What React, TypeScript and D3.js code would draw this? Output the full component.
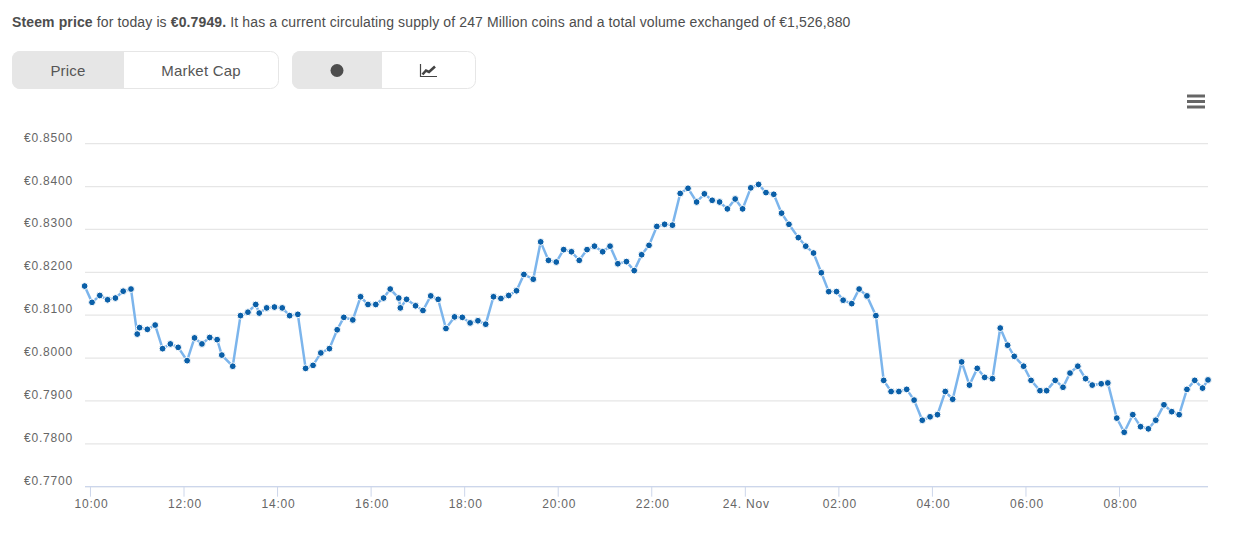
import * as d3 from 'd3';
import React, { useRef, useEffect } from 'react';

// minutes after 10:00
const minutes = [
  -7.5, 2, 12, 22, 32, 42, 52, 60, 63, 73, 83, 92.5, 102.5, 112.5, 124, 133.5, 143, 153, 162.5, 168.5,
  182.5, 192.5, 202, 212, 216.5, 226, 236, 246, 255.5, 266, 276, 285.5, 295.5, 306.5, 316.5, 325, 336.5, 346.5, 356,
  366, 376, 384.5, 395.5, 397.5, 405.5, 417, 426.5, 436.5, 446, 456, 467, 477, 487, 497, 507,
  517, 526.5, 536.5, 546.5, 556, 568, 577.5, 587.5, 597.5, 607, 617, 627, 637, 646.5, 657, 666.5,
  676.5, 687.5, 697.5, 707, 716.5, 726.5, 736.5, 746.5, 756.5, 766.5, 777.5, 787.5, 797.5, 807, 817, 827, 836.5,
  847, 857, 866.5, 876.5, 886.5, 896, 908, 917.5, 927.5, 937.5, 947, 957, 965.5, 976.5, 986, 996, 1007.5,
  1017.5, 1027, 1037, 1047, 1056.5, 1067, 1077, 1086.5, 1096.5, 1106, 1117.5, 1127.5, 1137.5, 1147, 1157,
  1167, 1176.5, 1185, 1197, 1206.5, 1218, 1226.5, 1237.5, 1247.5, 1256.5, 1266.5, 1276.5, 1285, 1296.5, 1305,
  1316.5, 1326, 1337, 1347, 1357, 1366.5, 1377, 1387, 1396.5, 1406.5, 1416.5, 1426.5, 1433.5,
];

const prices = [
  0.8168, 0.813, 0.8146, 0.8136, 0.814, 0.8156, 0.8161, 0.8056, 0.8071, 0.8067, 0.8077, 0.8022, 0.8033, 0.8025, 0.7994, 0.8047, 0.8033, 0.8048, 0.8043, 0.8007,
  0.7981, 0.8099, 0.8107, 0.8125, 0.8105, 0.8117, 0.8119, 0.8117, 0.8099, 0.8102, 0.7976, 0.7983, 0.8012, 0.8022, 0.8066, 0.8095, 0.8089, 0.8143, 0.8125,
  0.8125, 0.814, 0.8161, 0.814, 0.8117, 0.8137, 0.8122, 0.8111, 0.8145, 0.8137, 0.8069, 0.8096, 0.8095, 0.8082, 0.8087, 0.8079,
  0.8143, 0.8139, 0.8146, 0.8157, 0.8195, 0.8184, 0.8271, 0.8228, 0.8224, 0.8253, 0.8248, 0.8228, 0.8253, 0.8261, 0.8248, 0.8261,
  0.822, 0.8225, 0.8204, 0.8241, 0.8263, 0.8307, 0.8312, 0.831, 0.8384, 0.8396, 0.8364, 0.8383, 0.8368, 0.8364, 0.8348, 0.8371, 0.8348,
  0.8397, 0.8405, 0.8386, 0.8382, 0.8338, 0.8312, 0.8281, 0.8261, 0.8245, 0.8199, 0.8155, 0.8155, 0.8135, 0.8127, 0.8161, 0.8145, 0.8099,
  0.7948, 0.7922, 0.7922, 0.7927, 0.7902, 0.7855, 0.7863, 0.7868, 0.7922, 0.7904, 0.7991, 0.7937, 0.7976, 0.7955, 0.7952,
  0.807, 0.803, 0.8004, 0.7981, 0.7948, 0.7924, 0.7924, 0.7948, 0.7932, 0.7965, 0.7981, 0.7952, 0.7937, 0.794, 0.7942,
  0.786, 0.7827, 0.7868, 0.784, 0.7835, 0.7855, 0.7891, 0.7875, 0.7868, 0.7927, 0.7948, 0.793, 0.7949,
];

const priceTicks = [0.77, 0.78, 0.79, 0.8, 0.81, 0.82, 0.83, 0.84, 0.85];
const timeTicks = [0, 120, 240, 360, 480, 600, 720, 840, 960, 1080, 1200, 1320];
const timeLabels = ['10:00', '12:00', '14:00', '16:00', '18:00', '20:00', '22:00', '24. Nov', '02:00', '04:00', '06:00', '08:00'];

const font = '"Liberation Sans", Arial, sans-serif';

function App(): any {
  const ref = useRef(null);
  const width = 1235;
  const height = 535;
  const margin = { left: 85, right: 27, top: 143.7, bottom: 48.3 };

  useEffect(() => {
    const svg = d3.select(ref.current);
    const plot = svg.select('.plot-area');
    plot.selectAll('*').remove();

    const xScale = d3.scaleLinear()
      .domain([-7, 1433.5])
      .range([margin.left, width - margin.right]);
    const yScale = d3.scaleLinear()
      .domain([0.77, 0.85])
      .range([height - margin.bottom, margin.top]);

    const yAxis = plot.append('g')
      .attr('class', 'axisLeft')
      .attr('transform', 'translate(' + margin.left + ',0)')
      .call(
        d3.axisLeft(yScale)
          .offset(0)
          .tickValues(priceTicks)
          .tickSize(-(width - margin.left - margin.right))
          .tickFormat((d: any) => '€' + d3.format('.4f')(d))
      );
    yAxis.select('.domain').remove();
    yAxis.selectAll('line').attr('stroke', '#e6e6e6').attr('stroke-width', 1.2);
    yAxis.selectAll('text')
      .attr('x', -12)
      .attr('dy', -2)
      .attr('fill', '#666')
      .style('font', '12px ' + font)
      .style('letter-spacing', '0.8px');

    const xAxis = plot.append('g')
      .attr('class', 'axisBottom')
      .attr('transform', 'translate(0,' + (height - margin.bottom) + ')')
      .call(
        d3.axisBottom(xScale)
          .offset(0)
          .tickValues(timeTicks)
          .tickSize(10)
          .tickSizeOuter(0)
          .tickFormat((_: any, i: number) => timeLabels[i])
      );
    xAxis.select('.domain').attr('stroke', '#ccd6eb').attr('stroke-width', 1.2);
    xAxis.selectAll('line').attr('stroke', '#ccd6eb');
    xAxis.selectAll('text')
      .attr('y', 13)
      .attr('dx', 1)
      .attr('fill', '#666')
      .style('font', '12px ' + font)
      .style('letter-spacing', '0.8px');

    const line = d3.line<number>()
      .x((d) => xScale(d))
      .y((_, i) => yScale(prices[i]));

    plot.append('path')
      .attr('d', line(minutes))
      .attr('fill', 'none')
      .attr('stroke', '#7cb5ec')
      .attr('stroke-width', 2.5);

    plot.selectAll('circle')
      .data(minutes)
      .enter()
      .append('circle')
      .attr('cx', (d: number) => xScale(d))
      .attr('cy', (_: number, i: number) => yScale(prices[i]))
      .attr('r', 3.4)
      .attr('fill', '#0a5fa8')
      .attr('stroke', '#fff')
      .attr('stroke-width', 1);
  }, []);

  return (
    <svg
      ref={ref}
      width={width}
      height={height}
      style={{ position: 'absolute', left: 0, top: 0 }}
    >
      <text x={12} y={27} fontFamily={font} fontSize={14} fill="#4d4d4d" letterSpacing={0.125}>
        <tspan fontWeight="bold">Steem price</tspan>
        {' for today is '}
        <tspan fontWeight="bold">€0.7949.</tspan>
        {' It has a current circulating supply of 247 Million coins and a total volume exchanged of €1,526,880'}
      </text>

      <rect x={12.5} y={51.5} width={266} height={37} rx={8} fill="#fff" stroke="#e6e6e6" />
      <path d="M124,51 H20 a8,8 0 0 0 -8,8 V81 a8,8 0 0 0 8,8 H124 Z" fill="#e6e6e6" />
      <text x={68} y={75.5} textAnchor="middle" fontFamily={font} fontSize={15} letterSpacing={0.2} fill="#555">Price</text>
      <text x={201} y={75.5} textAnchor="middle" fontFamily={font} fontSize={15} letterSpacing={0.2} fill="#555">Market Cap</text>

      <rect x={292.5} y={51.5} width={183} height={37} rx={8} fill="#fff" stroke="#e6e6e6" />
      <path d="M382,51 H300 a8,8 0 0 0 -8,8 V81 a8,8 0 0 0 8,8 H382 Z" fill="#e6e6e6" />
      <circle cx={337} cy={70.5} r={6.5} fill="#4d4d4d" />
      <path d="M420.5,64 V76.5 H437" fill="none" stroke="#444" strokeWidth={1.2} />
      <path d="M422.5,74.5 L426,70.5 L429,72 L435,66.5" fill="none" stroke="#444" strokeWidth={2.6} />

      <g stroke="#666" strokeWidth={3}>
        <line x1={1187} x2={1205} y1={96} y2={96} />
        <line x1={1187} x2={1205} y1={101.5} y2={101.5} />
        <line x1={1187} x2={1205} y1={107} y2={107} />
      </g>

      <g className="plot-area" />
    </svg>
  );
}

export default App;
